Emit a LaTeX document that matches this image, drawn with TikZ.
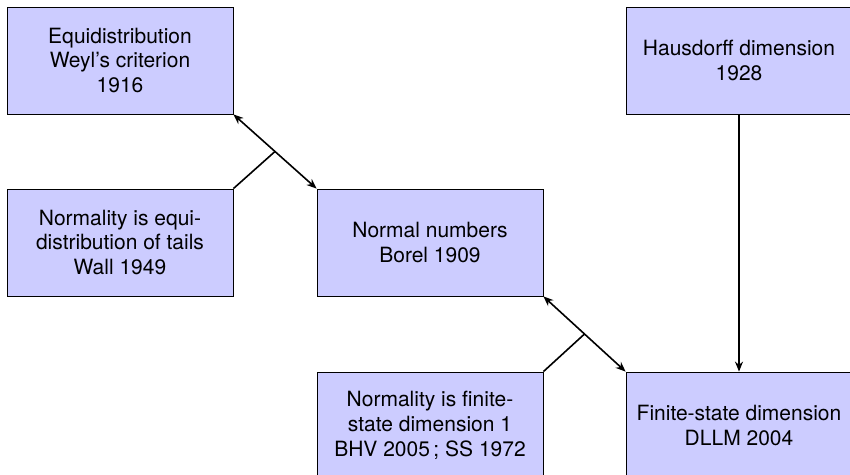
\documentclass[tikz,border=0pt]{standalone}
\usepackage{fontspec}
\setmainfont{TeX Gyre Heros}
\usepackage{xcolor}
\usetikzlibrary{arrows.meta}

\tikzset{
  histbox/.style={draw, fill=blue!20, align=center, inner sep=0pt,
    font=\fontsize{10.5pt}{12.4pt}\selectfont,
    minimum width=113pt, minimum height=53.5pt},
  link/.style={thick, {Stealth[length=5pt,width=4pt]}-{Stealth[length=5pt,width=4pt]}},
}

\begin{document}
\begin{tikzpicture}[x=0.5pt,y=-0.5pt]
  \useasboundingbox (0,0) rectangle (850,475);
  \clip (0,0) rectangle (850,475);
  % top row
  \node[histbox] (weyl) at (120,60.5) {Equidistribution\\Weyl's criterion\\1916};
  \node[histbox] (hausdorff) at (739,60.5) {Hausdorff dimension\\1928};
  % middle row
  \node[histbox] (wall) at (120,242.5) {Normality is equi-\\distribution of tails\\Wall 1949};
  \node[histbox] (borel) at (430,242.5) {Normal numbers\\Borel 1909};
  % bottom row
  \node[histbox] (bhv) at (430,425.5) {Normality is finite-\\state dimension 1\\BHV 2005\,; SS 1972};
  \node[histbox] (dllm) at (739,425.5) {Finite-state dimension\\DLLM 2004};

  \draw[link] (weyl.south east) -- coordinate[pos=0.5] (m1) (borel.north west);
  \draw[thick] (wall.north east) -- (m1);
  \draw[link] (borel.south east) -- coordinate[pos=0.5] (m2) (dllm.north west);
  \draw[thick] (bhv.north east) -- (m2);
  \draw[thick,-{Stealth[length=5pt,width=4pt]}] (hausdorff) -- (dllm);
\end{tikzpicture}
\end{document}
